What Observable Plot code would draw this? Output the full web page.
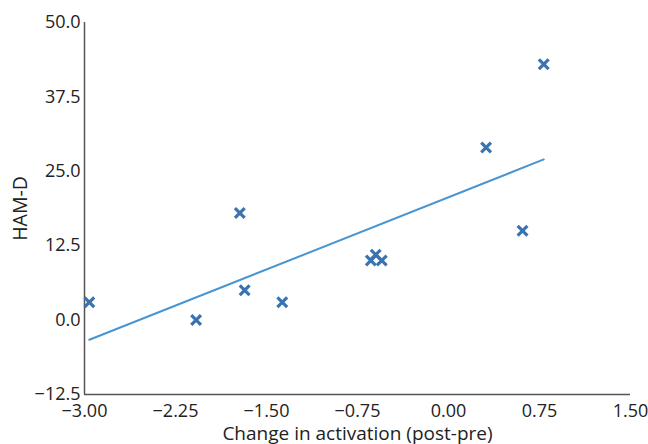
<!DOCTYPE html>
<html>
<head>
<meta charset="utf-8">
<script src="https://cdn.jsdelivr.net/npm/d3@7"></script>
<script src="https://cdn.jsdelivr.net/npm/@observablehq/plot@0.6"></script>
<style>
  html, body { margin: 0; padding: 0; background: #fff; }
  #chart { width: 648px; height: 444px; }
</style>
</head>
<body>
<div id="chart"></div>
<script>
const activation = [-2.96, -2.08, -1.72, -1.68, -1.37, -0.64, -0.60, -0.55, 0.31, 0.61, 0.785];
const hamd = [3, 0, 18, 5, 3, 10, 11, 10, 29, 15, 43];
const xTicks = [-3, -2.25, -1.5, -0.75, 0, 0.75, 1.5];
const yTicks = [-12.5, 0, 12.5, 25, 37.5, 50];
const xLabel = "Change in activation (post-pre)";
const yLabel = "HAM-D";

const data = activation.map((x, i) => ({x, y: hamd[i]}));

const W = 648, ML = 84, MR = 18;
const frameMidX = ML + (W - ML - MR) / 2;

const chart = Plot.plot({
  width: W,
  height: 444,
  marginLeft: ML,
  marginRight: MR,
  marginTop: 22,
  marginBottom: 50,
  style: {fontFamily: "'Open Sans', sans-serif", fontSize: "18px", color: "#222", background: "#fff"},
  x: {domain: [-3, 1.5], ticks: xTicks, tickFormat: d3.format(".2f"), tickSize: 0, tickPadding: 10, label: null},
  y: {domain: [-12.5, 50], ticks: yTicks, tickFormat: d3.format(".1f"), tickSize: 0, tickPadding: 4, label: null},
  marks: [
    Plot.ruleX([-3], {stroke: "#555", strokeWidth: 1.5}),
    Plot.ruleY([-12.5], {stroke: "#555", strokeWidth: 1.5}),
    Plot.linearRegressionY(data, {x: "x", y: "y", ci: 0, stroke: "#4795d2", strokeWidth: 2}),
    Plot.dot(data, {x: "x", y: "y", symbol: "times", r: 4.5, stroke: "#3a74b0", strokeWidth: 3.2}),
    Plot.text([yLabel], {frameAnchor: "middle", dx: 20 - frameMidX, rotate: -90, textAnchor: "middle", lineAnchor: "middle", fontSize: 19.5, fill: "#222"}),
    Plot.text([xLabel], {frameAnchor: "bottom", dy: 45, fontSize: 19, fill: "#222"})
  ]
});
// make sure the rotated axis title is centred on its anchor
chart.querySelectorAll("text").forEach(t => {
  if (t.textContent === yLabel) {
    t.setAttribute("text-anchor", "middle");
    t.style.textAnchor = "middle";
    if (t.parentNode) t.parentNode.setAttribute("text-anchor", "middle");
  }
});
document.getElementById("chart").appendChild(chart);
</script>
</body>
</html>
